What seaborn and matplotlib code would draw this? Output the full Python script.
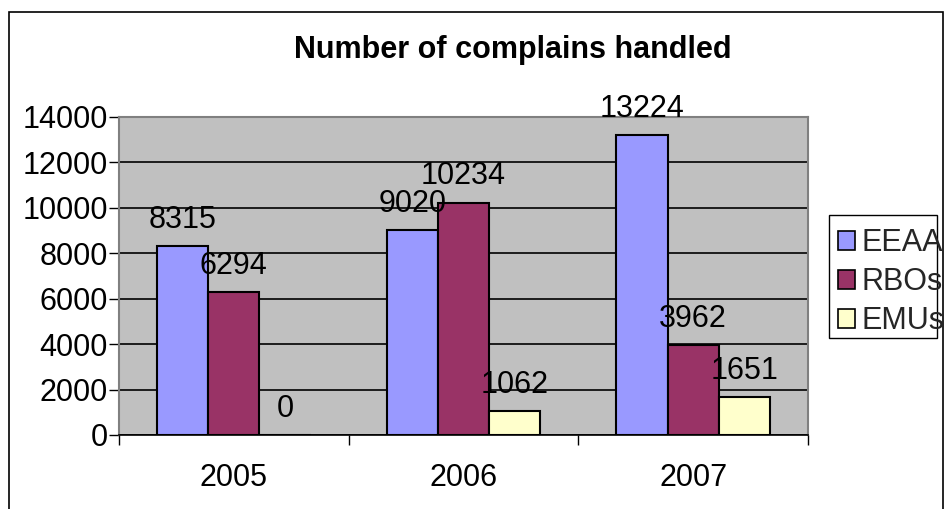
import matplotlib
matplotlib.use("Agg")
import matplotlib.pyplot as plt
import seaborn as sns
import pandas as pd
from matplotlib.patches import Rectangle

years = ["2005", "2006", "2007"]
series = ["EEAA", "RBOs", "EMUs"]
eeaa = [8315, 9020, 13224]
rbos = [6294, 10234, 3962]
emus = [0, 1062, 1651]
yticks = [0, 2000, 4000, 6000, 8000, 10000, 12000, 14000]
colors = ["#9999FF", "#993366", "#FFFFCC"]

df = pd.DataFrame({
    "year": years * 3,
    "series": [s for s in series for _ in years],
    "value": eeaa + rbos + emus,
})

sns.set_theme(style="white")
plt.rcParams['font.family'] = ['Liberation Sans', 'DejaVu Sans']

FS = 22
W, H = 945, 509
fig = plt.figure(figsize=(W / 100, H / 100), dpi=100)
ax = fig.add_axes([119 / W, 1 - 435 / H, (808 - 119) / W, (435 - 117) / H])
ax.set_facecolor("#C0C0C0")

sns.barplot(data=df, x="year", y="value", hue="series", order=years,
            hue_order=series, palette=colors, width=0.67, ax=ax,
            edgecolor="black", linewidth=1.5, legend=False, saturation=1)

for c in ax.containers:
    ax.bar_label(c, labels=[f"{int(v)}" for v in c.datavalues],
                 padding=8, fontsize=FS, color="black")

ax.set_ylim(0, 14000)
ax.set_xlim(-0.5, 2.5)
ax.set_yticks(yticks)
ax.set_yticklabels([str(v) for v in yticks], fontsize=FS, color="black")
ax.yaxis.grid(True, color="black", linewidth=1.2)
ax.set_axisbelow(True)
ax.set_xlabel("")
ax.set_ylabel("")

ax.set_xticks([-0.5, 0.5, 1.5, 2.5])
ax.set_xticklabels([])
ax.set_xticks([0, 1, 2], minor=True)
ax.set_xticklabels(years, minor=True, fontsize=FS, color="black")
ax.tick_params(axis="x", which="major", length=7, width=1, color="black", direction="out", bottom=True)
ax.tick_params(axis="x", which="minor", length=0, pad=20)
ax.tick_params(axis="y", length=7, width=1, color="black", direction="out", left=True, pad=1)

for s in ["top", "right", "left"]:
    ax.spines[s].set_color("#808080")
    ax.spines[s].set_linewidth(1.5)
ax.spines["bottom"].set_color("black")
ax.spines["bottom"].set_linewidth(1.2)

fig.text(513 / W, 1 - 50 / H, "Number of complains handled", ha="center", va="center",
         fontsize=FS, fontweight="bold", color="black")

# figure border
fig.patches.append(Rectangle((9 / W, -0.1), (943 - 9) / W, (1 - 12 / H) + 0.1,
                             transform=fig.transFigure, fill=False,
                             edgecolor="black", linewidth=1.2))

# legend box
fig.patches.append(Rectangle((829 / W, 1 - 338 / H), (937 - 829) / W, (338 - 215) / H,
                             transform=fig.transFigure, fill=False,
                             edgecolor="black", linewidth=1))

handles = [Rectangle((0, 0), 1, 1, facecolor=c, edgecolor="black", linewidth=1.2) for c in colors]
fig.legend(handles, series, loc="upper left", bbox_to_anchor=(832 / W, 1 - 222 / H),
           frameon=False, fontsize=FS, handlelength=0.55, handleheight=0.55,
           handletextpad=0.2, labelspacing=0.3, borderpad=0.2, borderaxespad=0)

fig.savefig("out.png", dpi=100)
